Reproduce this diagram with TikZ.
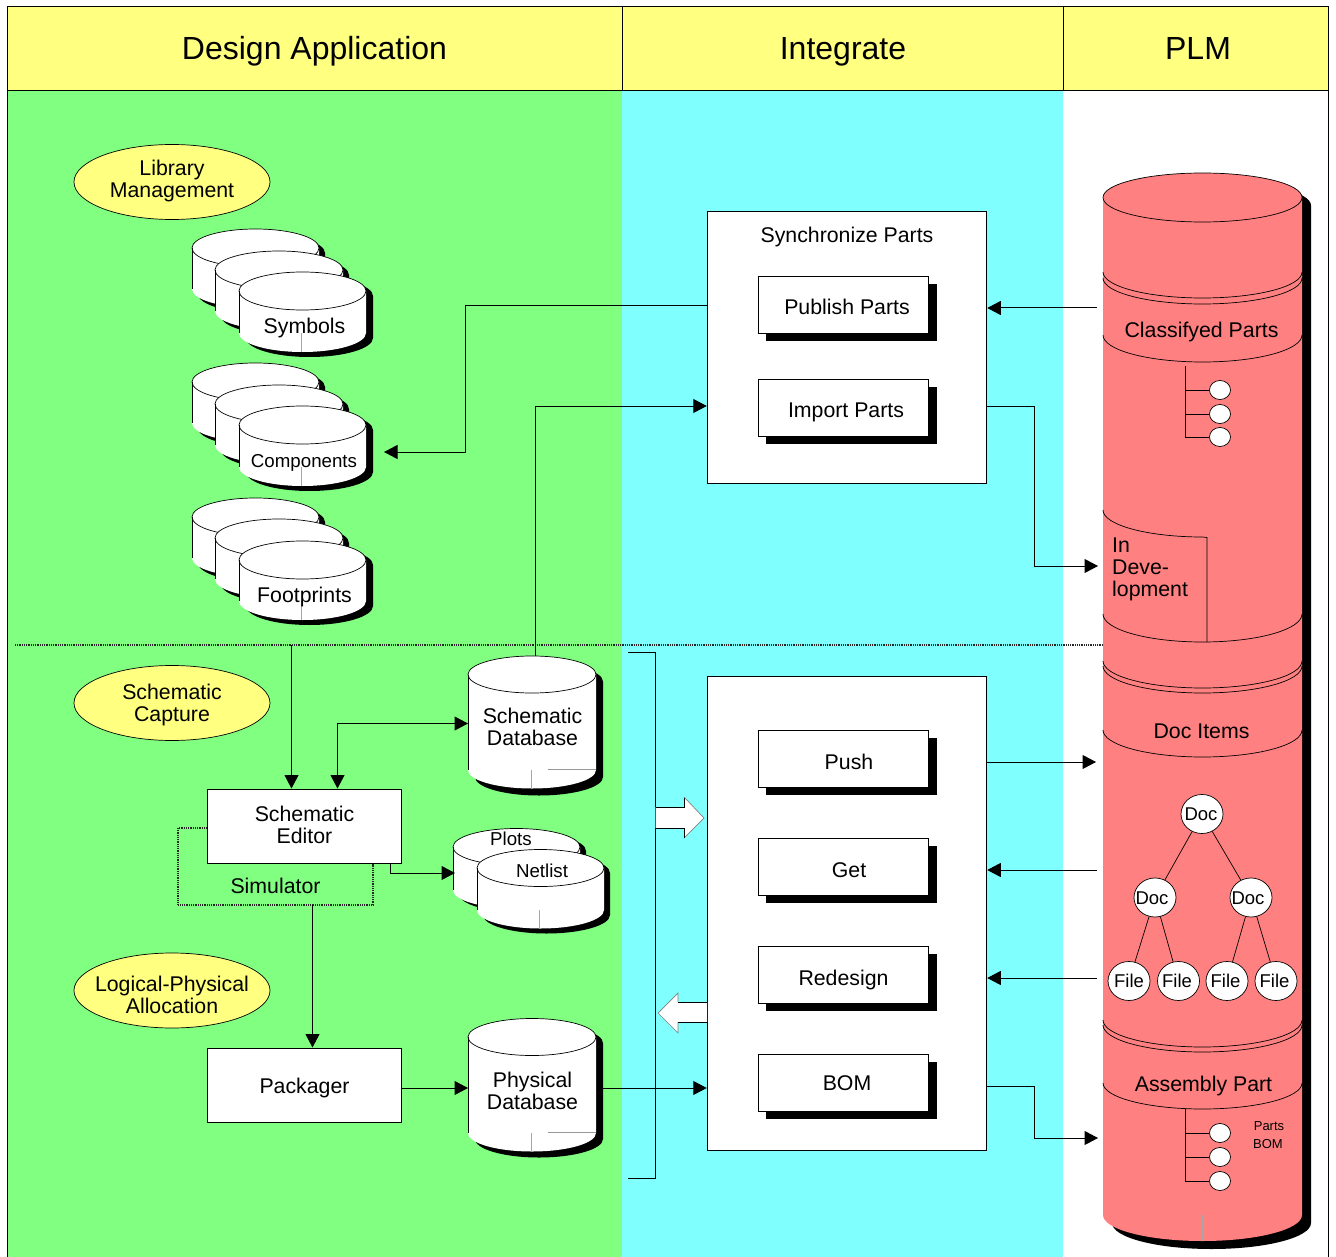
\documentclass[tikz,border=0pt]{standalone}
\usepackage{fontspec}
\setmainfont{Liberation Sans}
\usetikzlibrary{arrows.meta,shapes.geometric}
\definecolor{bggreen}{HTML}{80FF80}
\definecolor{bgcyan}{HTML}{80FFFF}
\definecolor{hdyellow}{HTML}{FFFF80}
\definecolor{plmred}{HTML}{FF8080}
\newcommand\fsz[1]{\fontsize{#1}{22}\selectfont}
\newcommand\offs[3]{\raisebox{#2}{\makebox[0pt][c]{\kern #1 #3}}}
% left, right, top-centre y, bottom-side y, ry, shadow dx, shadow dy
\newcommand\cylshape[7]{%
  \pgfmathsetmacro\cylrx{(#2-#1)/2}%
  \pgfmathsetmacro\cylmx{(#2+#1)/2}%
  \fill[black,shift={(#6,#7)}] (#1,#3) -- (#1,#4) arc[start angle=180,end angle=360,x radius=\cylrx pt,y radius=#5 pt] -- (#2,#3) arc[start angle=0,end angle=180,x radius=\cylrx pt,y radius=#5 pt] -- cycle;
  \fill[white] (#1,#3) -- (#1,#4) arc[start angle=180,end angle=360,x radius=\cylrx pt,y radius=#5 pt] -- (#2,#3) arc[start angle=0,end angle=180,x radius=\cylrx pt,y radius=#5 pt] -- cycle;
  \draw[thinline] (#1,#4) -- (#1,#3);
  \draw[hair] (\cylmx,#3) ellipse[x radius=\cylrx pt,y radius=#5 pt];
  \draw[gray!70,line width=.7pt] (\cylmx-1,#4) -- ++(0,#5);
}
\tikzset{
  thinline/.style={line width=1pt,black},
  hair/.style={line width=.7pt,black},
  arr/.style={thinline,-{Triangle[length=13.5pt,width=14pt]}},
  arrboth/.style={thinline,{Triangle[length=13.5pt,width=14pt]}-{Triangle[length=13.5pt,width=14pt]}},
  lbl/.style={font=\fsz{21.3},inner sep=0pt,text height=18pt,text depth=3pt,align=center},
  mlbl/.style={font=\fsz{21.3},inner sep=0pt,align=center},
  smalllbl/.style={lbl,font=\fsz{18.7}},
  tinylbl/.style={font=\fsz{13},inner sep=0pt,text height=13pt,text depth=2pt},
  headlbl/.style={font=\fsz{32},inner sep=0pt,text height=30pt,text depth=6pt},
  topic/.style={ellipse,draw=black,line width=.7pt,fill=hdyellow,minimum width=196pt,minimum height=75pt,inner sep=0pt},
  panel/.style={draw=black,line width=1pt,fill=white,inner sep=0pt,font=\fsz{21.3},align=center},
  btn/.style={panel,minimum width=170.5pt,minimum height=57pt,text height=18pt,text depth=3pt},
  treenode/.style={ellipse,draw=black,line width=.7pt,fill=white,minimum width=42pt,minimum height=39pt,inner sep=0pt,inner xsep=-8pt,inner ysep=-4pt,font=\fsz{18.5},text height=13pt,text depth=3pt},
  leafdot/.style={ellipse,draw=black,line width=.7pt,fill=white,minimum width=21pt,minimum height=19pt,inner sep=0pt},
  dotline/.style={line width=1.6pt,black!85,dash pattern=on 1pt off .8pt},
  blockarrow/.style={fill=white,draw=none},
}
\begin{document}
\begin{tikzpicture}[x=1pt,y=-1pt]
\useasboundingbox (0,0) rectangle (1336,1257);
% backgrounds
\fill[white] (0,0) rectangle (1336,1257);
\fill[bggreen] (7,90.5) rectangle (622,1257);
\fill[bgcyan] (622,90.5) rectangle (1063,1257);
\fill[hdyellow] (7,7) rectangle (1328,90.5);
\draw[thinline] (7,1257) -- (7,7) -- (1328,7) -- (1328,1257);
\draw[thinline] (7,90.5) -- (1328,90.5);
\draw[thinline] (622.5,7) -- (622.5,90.5);
\draw[thinline] (1063,7) -- (1063,90.5);
\node[headlbl] (hdesign) at (314.5,48) {Design Application};
\node[headlbl] (hintegrate) at (843,48) {Integrate};
\node[headlbl] (hplm) at (1198,48) {PLM};
% section separator
\coordinate (sepl) at (15,645);
\coordinate (sepr) at (1104,645);
\draw[dotline] (sepl) -- (sepr);
% topics
\node[topic] (tlib) at (172,182) {};
\node[mlbl] (tlibtext) at (172,181) {Library\\Management};
\node[topic] (tcap) at (172,703) {};
\node[mlbl] (tcaptext) at (172,704.5) {Schematic\\Capture};
\node[topic] (talloc) at (172,990.5) {};
\node[mlbl] (talloctext) at (172,995) {Logical-Physical\\Allocation};
% library cylinders
\cylshape{192}{319}{248}{289}{19}{6}{5}
\cylshape{215}{343}{270}{311}{19}{6}{5}
\cylshape{239}{366}{291}{333}{19}{7}{5}
\node[lbl] (symbols) at (304.5,326) {Symbols};
\cylshape{192}{319}{382}{423}{19}{6}{5}
\cylshape{215}{343}{404}{445}{19}{6}{5}
\cylshape{239}{366}{425}{467}{19}{7}{5}
\node[smalllbl] (components) at (304,460) {Components};
\cylshape{192}{319}{517}{558}{19}{6}{5}
\cylshape{215}{343}{538}{579}{19}{6}{5}
\cylshape{239}{366}{560}{601}{19}{7}{5}
\node[lbl] (footprints) at (304.5,595) {Footprints};
% databases
\cylshape{468}{596}{674.5}{770}{18.5}{7}{7}
\draw[gray!80,line width=.7pt] (548,769) -- (596,769);
\node[mlbl] (schdb) at (532.5,727) {Schematic\\Database};
\cylshape{453}{580}{847}{890}{18.5}{6}{4}
\cylshape{477}{604}{868}{910}{18.5}{6}{5}
\node[smalllbl] (plots) at (511,837.5) {Plots};
\node[smalllbl] (netlist) at (542,869.5) {Netlist};
\cylshape{468}{596}{1037}{1133}{18.5}{7}{6}
\draw[gray!80,line width=.7pt] (548,1132) -- (596,1132);
\node[mlbl] (phydb) at (532.5,1091) {Physical\\Database};
% left boxes
\node[panel,minimum width=194.5pt,minimum height=74pt] (editor) at (304.5,826) {};
\node[mlbl] (editortext) at (304.5,825) {Schematic\\Editor};
\node[panel,minimum width=194.5pt,minimum height=74pt,text height=19pt,text depth=3pt] (packager) at (304.5,1085) {Packager};
\coordinate (simtop) at (178,828);
\coordinate (simbot) at (373,905);
\draw[dotline] (editor.west |- simtop) -- (simtop) |- (simbot) -- (simbot |- editor.south);
\node[lbl] (simulator) at (275.5,886) {Simulator};
% integrate boxes
\node[panel,minimum width=279.5pt,minimum height=271.5pt] (sync) at (847,347.25) {};
\node[lbl] (synctext) at (847,235) {Synchronize Parts};
\node[panel,minimum width=279.5pt,minimum height=474pt] (lower) at (847,913) {};
\foreach \nm/\yy/\dx/\dy/\tx in {publish/304.75/7pt/-2pt/Publish Parts,importp/407.5/5pt/-2.5pt/Import Parts,push/758.5/11pt/-3.5pt/Push,get/866.5/11pt/-3.5pt/Get,redesign/974.5/0pt/-3.5pt/Redesign,bom/1082.5/7pt/0pt/BOM}{
  \fill[black] (766,\yy-20.5) rectangle (937,\yy+36.5);
  \node[btn] (\nm) at (843.5,\yy) {\offs{\dx}{\dy}{\tx}};
}
% big PLM cylinder
\fill[black,shift={(9,8)}] (1103,197.5) -- (1103,1215) arc[start angle=180,end angle=360,x radius=99.5pt,y radius=26pt] -- (1302,197.5) arc[start angle=0,end angle=180,x radius=99.5pt,y radius=24.5pt] -- cycle;
\fill[plmred] (1103,197.5) -- (1103,1215) arc[start angle=180,end angle=360,x radius=99.5pt,y radius=26pt] -- (1302,197.5) arc[start angle=0,end angle=180,x radius=99.5pt,y radius=24.5pt] -- cycle;
\draw[hair] (1202.5,197.5) ellipse[x radius=99.5pt,y radius=24.5pt];
\foreach \yy/\hh in {272/26,278/26,335/27,614/28,661/27,666/27,730/27,1020/27,1025/27,1083/26}{
  \draw[hair] (1103,\yy) arc[start angle=180,end angle=360,x radius=99.5pt,y radius=\hh pt];
}
\draw[hair] (1103,510) arc[start angle=180,end angle=270,x radius=99.5pt,y radius=27pt] -- (1207,537.5) -- (1207,642);
\draw[gray!70,line width=.7pt] (1202,1215) -- (1202,1241);
\node[lbl] (classified) at (1201.5,330) {Classifyed Parts};
\node[mlbl,align=left,anchor=west] (indev) at (1112,569) {In\\Deve-\\lopment};
\node[lbl] (docitems) at (1201.5,731) {Doc Items};
\node[lbl] (assembly) at (1203.5,1084) {Assembly Part};
\node[tinylbl] (partsl) at (1269,1125) {Parts};
\node[tinylbl] (boml) at (1268,1143) {BOM};
% leaf dots, classified
\node[leafdot] (c1) at (1220,390) {};
\node[leafdot] (c2) at (1220,414) {};
\node[leafdot] (c3) at (1220,437) {};
\coordinate (ctop) at (1185,366);
\draw[thinline] (ctop) -- (ctop |- c3) -- (c3);
\draw[thinline] (ctop |- c1) -- (c1);
\draw[thinline] (ctop |- c2) -- (c2);
% leaf dots, assembly
\node[leafdot] (a1) at (1220,1133) {};
\node[leafdot] (a2) at (1220,1157) {};
\node[leafdot] (a3) at (1220,1181) {};
\coordinate (atop) at (1185,1109);
\draw[thinline] (atop) -- (atop |- a3) -- (a3);
\draw[thinline] (atop |- a1) -- (a1);
\draw[thinline] (atop |- a2) -- (a2);
% doc tree
\node[treenode] (droot) at (1202,814) {\offs{-2pt}{-1.5pt}{Doc}};
\node[treenode] (dl) at (1155,897.5) {\offs{-6pt}{-2pt}{Doc}};
\node[treenode] (dr) at (1251,897.5) {\offs{-6pt}{-2pt}{Doc}};
\node[treenode] (f1) at (1129,981) {\offs{0pt}{-1.5pt}{File}};
\node[treenode] (f2) at (1178.5,981) {\offs{-3pt}{-1.5pt}{File}};
\node[treenode] (f3) at (1227,981) {\offs{-3pt}{-1.5pt}{File}};
\node[treenode] (f4) at (1276,981) {\offs{-3pt}{-1.5pt}{File}};
\draw[hair] (droot) -- (dl);
\draw[hair] (droot) -- (dr);
\draw[hair] (dl) -- (f1);
\draw[hair] (dl) -- (f2);
\draw[hair] (dr) -- (f3);
\draw[hair] (dr) -- (f4);
% connector ports
\coordinate (compin) at (384,452);
\coordinate (pubout) at (465,306);
\coordinate (schdbtop) at (535.5,656);
\coordinate (syncin) at (535.5,406);
\coordinate (clsport) at (1097,308);
\coordinate (impout) at (1034,406);
\coordinate (devin) at (1098,566);
\coordinate (capdrop) at (291.5,645);
\coordinate (dbport) at (468,723.5);
\coordinate (dbbend) at (337.5,723.5);
\coordinate (edout) at (390,873);
\coordinate (plotsin) at (455,873);
\coordinate (simout) at (312.5,905);
\coordinate (phyin) at (468,1088);
\coordinate (phyout) at (603,1088);
\coordinate (pushout) at (1096,762);
\coordinate (getin) at (1097,870);
\coordinate (redesignin) at (1097,978);
\coordinate (bomout) at (987,1086);
\coordinate (bombend) at (1034,1086);
\coordinate (asmin) at (1098,1138);
% connectors
\draw[arr] (sync.west |- pubout) -- (pubout) |- (compin);
\draw[arr] (schdbtop) -- (syncin) -- (sync.west |- syncin);
\draw[arr] (clsport) -- (sync.east |- clsport);
\draw[arr] (sync.east |- impout) -- (impout) |- (devin);
\draw[arr] (capdrop) -- (capdrop |- editor.north);
\draw[arrboth] (editor.north -| dbbend) -- (dbbend) -- (dbport);
\draw[arr] (edout |- editor.south) -- (edout) -- (plotsin);
\draw[arr] (simout) -- (simout |- packager.north);
\draw[arr] (packager.east |- phyin) -- (phyin);
\draw[arr] (phyout) -- (lower.west |- phyout);
\draw[arr] (lower.east |- pushout) -- (pushout);
\draw[arr] (getin) -- (lower.east |- getin);
\draw[arr] (redesignin) -- (lower.east |- redesignin);
\draw[arr] (bomout) -- (bombend) |- (asmin);
% bracket
\coordinate (brt) at (628,652.5);
\coordinate (brb) at (628,1178);
\coordinate (brx) at (655.5,900);
\draw[thinline] (brt) -- (brx |- brt) -- (brx |- brb) -- (brb);
% block arrows
\fill[blockarrow] (655.5,807) -- (684,807) -- (684,797) -- (704,818) -- (684,838) -- (684,828) -- (655.5,828) -- cycle;
\draw[thinline] (655.5,807) -- (684,807) -- (684,797);
\draw[gray,line width=.7pt] (684,797) -- (704,818) -- (684,838);
\draw[thinline] (684,838) -- (684,828) -- (655.5,828);
\fill[blockarrow] (707,1002) -- (678,1002) -- (678,993) -- (658,1013) -- (678,1033) -- (678,1022) -- (707,1022) -- cycle;
\draw[thinline] (707,1002) -- (678,1002);
\draw[gray,line width=.7pt] (678,1002) -- (678,993) -- (658,1013) -- (678,1033) -- (678,1022);
\draw[thinline] (678,1022) -- (707,1022);
\end{tikzpicture}
\end{document}
